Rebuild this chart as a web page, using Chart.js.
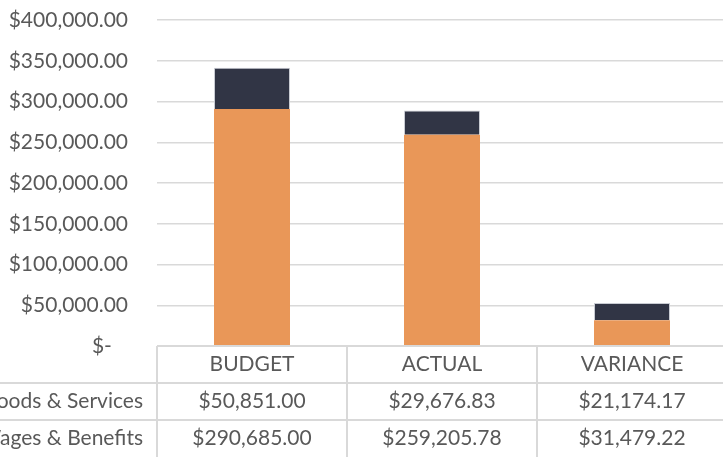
<!DOCTYPE html>
<html>
<head>
<meta charset="utf-8">
<script src="https://cdn.jsdelivr.net/npm/chart.js@4.4.1/dist/chart.umd.min.js"></script>
<style>
  html, body { margin: 0; padding: 0; background: #fff; overflow: hidden; }
  #wrap { width: 740px; height: 457px; position: relative; }
</style>
</head>
<body>
<div id="wrap"><canvas id="graph"></canvas></div>
<script>
// -------------------------
// DATA
// -------------------------
const categories = ["BUDGET", "ACTUAL", "VARIANCE"];
const goodsServices = [50851.00, 29676.83, 21174.17];
const wagesBenefits = [290685.00, 259205.78, 31479.22];
const goodsLabels = ["$50,851.00", "$29,676.83", "$21,174.17"];
const wagesLabels = ["$290,685.00", "$259,205.78", "$31,479.22"];
const rowNames = ["Goods & Services", "Wages & Benefits"];

const TEXT = "#595959";
const LINE = "#d9d9d9";
const FONT = "Lato";
const FSIZE = 21;
const ROW_H = 37;

function money(v) {
  if (v === 0) return "$-   ";
  return "$" + v.toLocaleString("en-US", { minimumFractionDigits: 2, maximumFractionDigits: 2 });
}

// -------------------------
// DATA TABLE UNDER THE PLOT
// -------------------------
const dataTable = {
  id: "dataTable",
  afterDraw(chart) {
    const ctx = chart.ctx;
    const area = chart.chartArea;
    const x = chart.scales.x;
    const n = categories.length;
    const cw = (area.right - area.left) / n;
    const top = area.bottom;

    ctx.save();
    ctx.strokeStyle = LINE;
    ctx.lineWidth = 2;
    ctx.beginPath();
    // horizontal lines
    ctx.moveTo(area.left, top); ctx.lineTo(area.right, top);
    for (let r = 1; r <= 2; r++) {
      ctx.moveTo(0, top + r * ROW_H); ctx.lineTo(area.right, top + r * ROW_H);
    }
    // vertical lines
    for (let i = 0; i <= n; i++) {
      const px = area.left + i * cw;
      ctx.moveTo(px, top); ctx.lineTo(px, top + 3 * ROW_H);
    }
    ctx.stroke();

    ctx.fillStyle = TEXT;
    ctx.font = FSIZE + "px " + FONT;
    ctx.textBaseline = "middle";
    ctx.textAlign = "center";
    categories.forEach((c, i) => {
      const cx = x.getPixelForValue(i);
      ctx.fillText(c, cx, top + ROW_H * 0.5);
      ctx.fillText(goodsLabels[i], cx, top + ROW_H * 1.5);
      ctx.fillText(wagesLabels[i], cx, top + ROW_H * 2.5);
    });
    ctx.textAlign = "right";
    ctx.fillText(rowNames[0], area.left - 14, top + ROW_H * 1.5);
    ctx.fillText(rowNames[1], area.left - 14, top + ROW_H * 2.5);
    ctx.restore();
  }
};

// -------------------------
// INIT CHART
// -------------------------
function initChart() {
  const ctx = document.getElementById("graph").getContext("2d");

  new Chart(ctx, {
    type: "bar",
    data: {
      labels: categories,
      datasets: [
        {
          label: rowNames[1],
          data: wagesBenefits,
          backgroundColor: "#e99758",
          barPercentage: 0.4,
          categoryPercentage: 1.0
        },
        {
          label: rowNames[0],
          data: goodsServices,
          backgroundColor: "#313545",
          borderColor: "#c9ccd3",
          borderWidth: 1,
          borderSkipped: "bottom",
          barPercentage: 0.4,
          categoryPercentage: 1.0
        }
      ]
    },
    options: {
      responsive: true,
      maintainAspectRatio: false,
      animation: false,
      layout: { padding: { top: 20, right: 13, bottom: 3 * ROW_H, left: 0 } },
      plugins: {
        legend: { display: false },
        tooltip: { enabled: false }
      },
      scales: {
        x: {
          stacked: true,
          display: false
        },
        y: {
          stacked: true,
          min: 0,
          max: 400000,
          border: { display: false },
          grid: {
            color: LINE,
            lineWidth: 1.5,
            drawTicks: true,
            tickLength: 25,
            tickColor: "rgba(0,0,0,0)"
          },
          ticks: {
            stepSize: 50000,
            padding: 4,
            color: TEXT,
            font: { family: FONT, size: FSIZE },
            callback: (v) => money(v)
          },
          afterFit: (scale) => { scale.width = 157; }
        }
      }
    },
    plugins: [dataTable]
  });
}

// -------------------------
// START
// -------------------------
initChart();
</script>
</body>
</html>
